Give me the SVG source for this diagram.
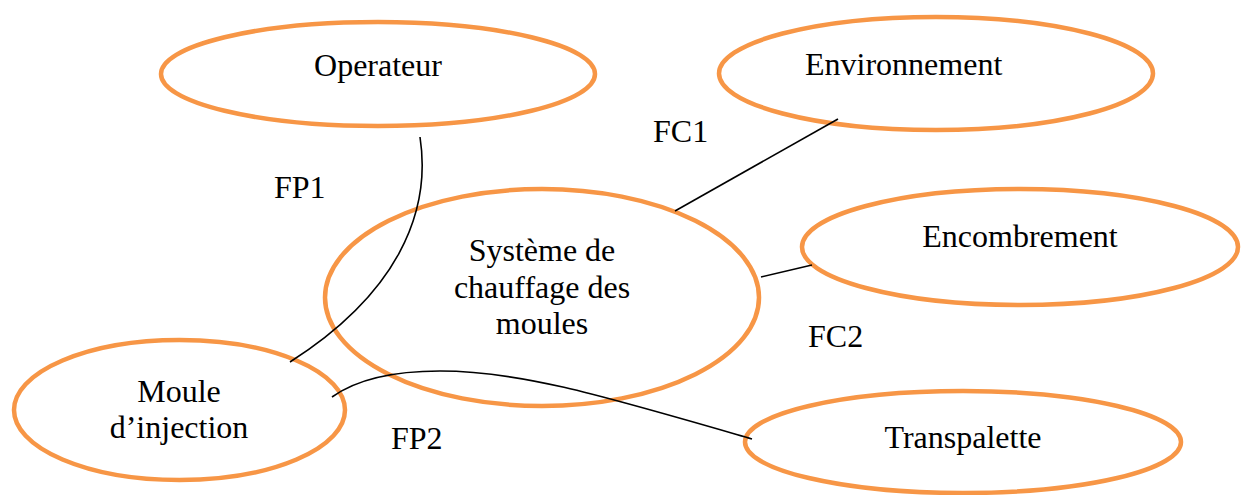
<svg xmlns="http://www.w3.org/2000/svg" width="1248" height="495" viewBox="0 0 1248 495">
<style>
.node ellipse{fill:#ffffff;stroke:#F79646;stroke-width:4.5}
text{font-family:"Liberation Serif","Times New Roman",serif;font-size:32px;fill:#000}
.c{text-anchor:middle}
.conn path,.conn line{fill:none;stroke:#000;stroke-width:1.6}
</style>
<rect width="1248" height="495" fill="#ffffff"/>
<g id="operateur" class="node">
<ellipse cx="378" cy="74" rx="217" ry="52"/>
<text class="c" x="378" y="76">Operateur</text>
</g>
<g id="environnement" class="node">
<ellipse cx="936" cy="73.5" rx="217" ry="56.5"/>
<text x="805" y="75">Environnement</text>
</g>
<g id="systeme" class="node">
<ellipse cx="542" cy="297.5" rx="217" ry="108.5"/>
<text class="c" x="542" y="261">Système de</text>
<text class="c" x="542" y="298">chauffage des</text>
<text class="c" x="542" y="334">moules</text>
</g>
<g id="encombrement" class="node">
<ellipse cx="1020" cy="247" rx="218" ry="58"/>
<text class="c" x="1020" y="247">Encombrement</text>
</g>
<g id="moule" class="node">
<ellipse cx="179.5" cy="410" rx="165.5" ry="70"/>
<text class="c" x="179" y="402">Moule</text>
<text class="c" x="179" y="438">d’injection</text>
</g>
<g id="transpalette" class="node">
<ellipse cx="963" cy="442" rx="218" ry="51"/>
<text class="c" x="963" y="448">Transpalette</text>
</g>
<g id="connectors" class="conn">
<path d="M420,137 C432,215 395,295 290,362"/>
<line x1="675" y1="211" x2="838" y2="119"/>
<line x1="761" y1="277" x2="812" y2="265"/>
<path d="M332,397 C360,377 400,371 440,371 C520,371 600,395 752,439"/>
</g>
<g id="labels">
<text x="274" y="198">FP1</text>
<text x="653" y="142">FC1</text>
<text x="808" y="347">FC2</text>
<text x="391" y="449">FP2</text>
</g>
</svg>
